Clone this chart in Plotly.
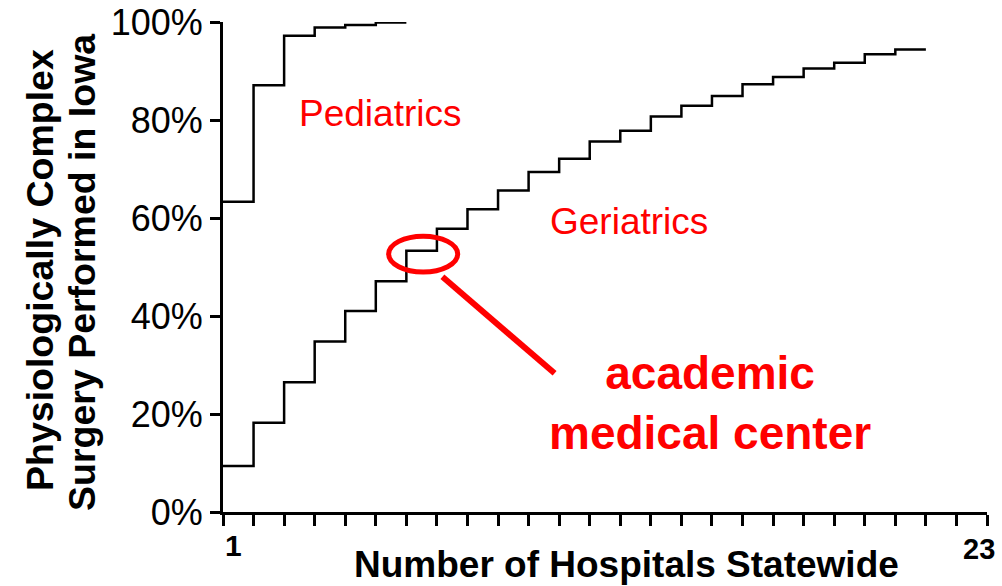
import plotly.graph_objects as go

# cumulative share of physiologically complex surgery, by number of hospitals
geri_hospitals = list(range(1, 24))
geri_pct = [9.4, 18.2, 26.5, 34.8, 41.0, 47.1, 53.3, 57.8, 61.8, 65.6, 69.4, 72.1,
            75.6, 77.8, 80.7, 82.9, 84.9, 87.3, 88.8, 90.5, 91.7, 93.4, 94.4]

ped_hospitals = list(range(1, 7))
ped_pct = [63.3, 87.1, 97.2, 98.9, 99.4, 99.9]

y_ticks = [0, 20, 40, 60, 80, 100]
y_labels = ["0%", "20%", "40%", "60%", "80%", "100%"]
x_first, x_last = "1", "23"

FONT = "Arial, Liberation Sans, sans-serif"
RED = "#ff0000"

# body margin is removed in the page (post_script below), so the figure fills the window
L, T, PW, PH = 223, 22, 764, 490


def px(x, y):
    # screen pixel -> paper coordinates
    return (x - L) / PW, (T + PH - y) / PH


def steps(hosp, vals):
    # each hospital occupies one unit; step drawn at its right edge
    xs = [h - 1 for h in hosp] + [hosp[-1]]
    ys = vals + [vals[-1]]
    return xs, ys


fig = go.Figure()
for hosp, vals in [(geri_hospitals, geri_pct), (ped_hospitals, ped_pct)]:
    xs, ys = steps(hosp, vals)
    fig.add_trace(go.Scatter(x=xs, y=ys, mode="lines", line_shape="hv",
                             line=dict(color="black", width=2.5),
                             showlegend=False, hoverinfo="skip"))

# academic medical center highlight
fig.add_shape(type="circle", xref="x", yref="y", x0=5.42, x1=7.68, y0=49.0, y1=56.3,
              line=dict(color=RED, width=5))
fig.add_shape(type="line", xref="x", yref="y", x0=7.18, y0=48.0, x1=10.85, y1=28.3,
              line=dict(color=RED, width=6))

fig.add_annotation(x=5.14, y=81.4, text="Pediatrics", showarrow=False,
                   font=dict(family=FONT, size=37, color=RED))
fig.add_annotation(x=13.29, y=59.2, text="Geriatrics", showarrow=False,
                   font=dict(family=FONT, size=37, color=RED))
fig.add_annotation(x=15.94, y=22.2, text="<b>academic<br>medical center</b>", showarrow=False,
                   font=dict(family=FONT, size=46, color=RED))


def label(x, y, text, size, angle=0):
    ax, ay = px(x, y)
    fig.add_annotation(xref="paper", yref="paper", x=ax, y=ay, xanchor="center",
                       yanchor="middle", text=text, showarrow=False, textangle=angle,
                       font=dict(family=FONT, size=size, color="black"))


label(626, 564, "<b>Number of Hospitals Statewide</b>", 37)
label(233, 545, "<b>" + x_first + "</b>", 30)
label(979, 549, "<b>" + x_last + "</b>", 29)
label(40, 270, "<b>Physiologically Complex</b>", 37.5, -90)
label(82, 272, "<b>Surgery Performed in Iowa</b>", 37.5, -90)

fig.update_xaxes(range=[0, 25], tickmode="linear", tick0=0, dtick=1,
                 ticks="outside", ticklen=11, tickwidth=3, tickcolor="black",
                 showticklabels=False, showline=True, linewidth=3, linecolor="black",
                 showgrid=False, zeroline=False, automargin=False)
fig.update_yaxes(range=[0, 100], tickmode="array", tickvals=y_ticks, ticktext=y_labels,
                 ticks="outside", ticklen=10, tickwidth=3, tickcolor="black",
                 tickfont=dict(family=FONT, size=36, color="black"),
                 ticklabeloverflow="allow",
                 showline=True, linewidth=3, linecolor="black",
                 showgrid=False, zeroline=False, automargin=False)

fig.update_layout(template="none", width=1002, height=586,
                  margin=dict(l=L, r=1002 - L - PW, t=T, b=586 - T - PH, autoexpand=False),
                  paper_bgcolor="white", plot_bgcolor="white")

fig.write_html("out.html", config={"displayModeBar": False},
               post_script="document.body.style.margin = '0';")
